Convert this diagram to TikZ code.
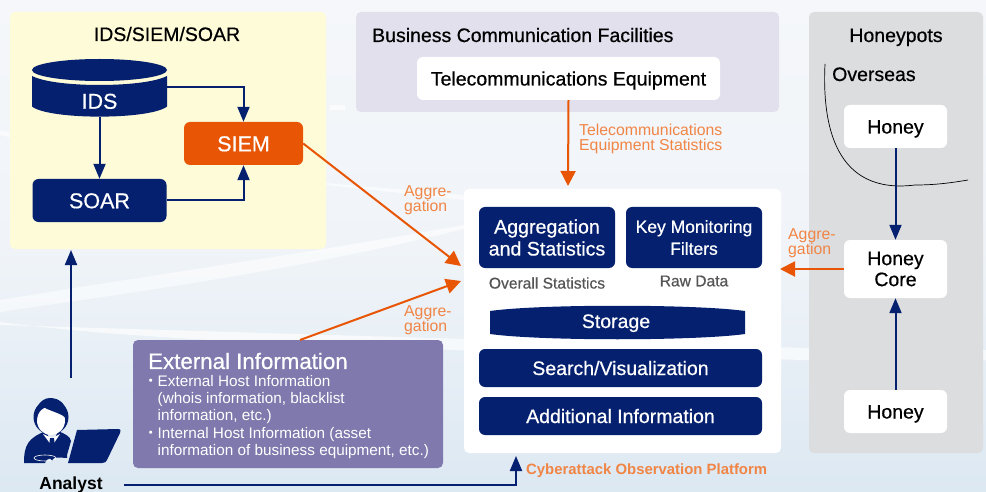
\documentclass[tikz,border=0pt]{standalone}
\usepackage{fontspec}
\setmainfont{Liberation Sans}
\newfontfamily\medf[FakeBold=0.6]{Liberation Sans}
\newfontfamily\cjkdot{Noto Sans CJK JP}
\usetikzlibrary{arrows.meta,calc,positioning}
\definecolor{navy}{HTML}{04206F}
\definecolor{orng}{HTML}{E85504}
\definecolor{lorng}{HTML}{F08545}
\definecolor{ylw}{HTML}{FEFBD8}
\definecolor{lav}{HTML}{E3E0EE}
\definecolor{gry}{HTML}{DCDDDE}
\definecolor{purp}{HTML}{8079AD}
\definecolor{bgtop}{HTML}{F5F7FA}
\definecolor{bgbot}{HTML}{DCE8F2}
\definecolor{txtgry}{HTML}{555555}
\newcommand{\bul}{\makebox[9.5pt][l]{\hspace*{-5pt}\smash{\cjkdot ・}}}
\tikzset{
  panel/.style={rounded corners=5pt,inner sep=0pt},
  box/.style={rectangle,rounded corners=6pt,minimum width=#1,inner sep=0pt,align=center},
  capline/.style={text height=14pt,text depth=0pt},
  t18/.style={font=\medf\fontsize{19.5}{23}\selectfont,capline},
  t21/.style={font=\medf\fontsize{21.5}{25}\selectfont,text height=15.5pt,text depth=0pt},
  tlabel/.style={text=lorng,font=\fontsize{15.8}{15}\selectfont,align=left,anchor=west,inner sep=0pt},
  navyarrow/.style={draw=navy,line width=2pt,-{Triangle[length=15pt,width=12pt]}},
  orngarrow/.style={draw=orng,line width=2pt,-{Triangle[length=15pt,width=15pt]}},
}
\begin{document}
\begin{tikzpicture}[x=1pt,y=-1pt]
\useasboundingbox (0,0) rectangle (986,492);
% background
\shade[top color=bgtop,bottom color=bgbot,middle color=bgtop!80!bgbot] (0,0) rectangle (986,492);
\fill[white,opacity=.65] (0,322) .. controls (150,342) and (350,345) .. (500,352) .. controls (700,355) and (850,365) .. (986,360) -- (986,350) .. controls (800,350) and (500,340) .. (0,325) -- cycle;
\fill[white,opacity=.55] (0,312) .. controls (150,290) and (300,270) .. (480,225) -- (480,222) .. controls (300,255) and (150,275) .. (0,300) -- cycle;
\fill[white,opacity=.5] (0,135) -- (20,140) -- (20,135) -- (0,130) -- cycle;
\fill[white,opacity=.5] (326,185) -- (464,200) -- (464,195) -- (326,183) -- cycle;
\fill[white,opacity=.6] (330,105) -- (345,105) -- (345,110) -- (330,110) -- cycle;
% panels
\fill[ylw,panel] (10,12) rectangle (326,249);
\fill[lav,panel] (356,12) rectangle (779,112);
\fill[gry,panel] (809,12) rectangle (983,453);
\fill[white,panel] (464,189) rectangle (781,453);
% yellow panel
\node[t18,text=black,inner sep=0pt] (titleA) at (167,34) {IDS/SIEM/SOAR};
\node[inner sep=0pt,minimum width=135pt,minimum height=58pt] (ids) at (99.5,88) {};
\fill[navy] (32,76) .. controls (55,88) and (144,88) .. (167,76) -- (167,106.5) .. controls (150,120) and (49,120) .. (32,106.5) -- cycle;
\fill[navy] (99.5,70) ellipse [x radius=67.5pt,y radius=11pt];
\node[t21,text=white,inner sep=0pt] (idstext) at (99.5,101) {IDS};
\node[box=119pt,minimum height=43pt,fill=orng,text=white,t21] (siem) at (243.5,143.5) {SIEM};
\node[box=134pt,minimum height=43pt,fill=navy,text=white,t21] (soar) at (99.5,200.5) {SOAR};
\draw[navyarrow] (167,87) -| (siem.north);
\draw[navyarrow] (ids.south) -- (soar.north);
\draw[navyarrow] (soar.east) -| (siem.south);
% business
\node[t18,anchor=west,inner sep=0pt] (titleB) at (372,35) {Business Communication Facilities};
\node[box=303pt,minimum height=43pt,fill=white,t18] (tele) at (568.5,78.5) {Telecommunications Equipment};
% platform
\node[box=136pt,minimum height=61pt,fill=navy,text=white,font=\medf\fontsize{19.6}{22}\selectfont] (agg) at (547,237.5) {Aggregation\\and Statistics};
\node[box=136pt,minimum height=61pt,fill=navy,text=white,font=\medf\fontsize{17.5}{22}\selectfont] (key) at (694,237.5) {Key Monitoring\\Filters};
\node[text=txtgry,font=\medf\fontsize{15.6}{16}\selectfont] (ov) at (547,283) {Overall Statistics};
\node[text=txtgry,font=\medf\fontsize{15.6}{16}\selectfont] (raw) at (694,281) {Raw Data};
\fill[navy] (490,311) .. controls (540,304) and (695,304) .. (745,311) -- (745,334) .. controls (695,341) and (540,341) .. (490,334) -- cycle;
\node[t18,text=white,inner sep=0pt] (stor) at (616,321) {Storage};
\node[box=283pt,minimum height=38pt,fill=navy,text=white,t18] (sv) at (620.5,368) {Search/Visualization};
\node[box=283pt,minimum height=38pt,fill=navy,text=white,t18] (add) at (620.5,416) {Additional Information};
\coordinate (pin1) at (461,266);
\coordinate (pin2) at (461,281);
\coordinate (pin3) at (568,186);
\coordinate (pin4) at (780,269);
\coordinate (pin5) at (516,456);
% honeypots
\node[t18,inner sep=0pt] (titleH) at (896,35) {Honeypots};
\node[t18,anchor=west,inner sep=0pt] (ovs) at (832,74) {Overseas};
\draw[black,line width=.7pt] (825,64) .. controls (822,125) and (835,195) .. (915,185) .. controls (935,185) and (950,183) .. (968,180);
\node[box=103pt,minimum height=43pt,fill=white,t18] (h1) at (895.5,126.5) {Honey};
\node[box=103pt,minimum height=58pt,fill=white,font=\medf\fontsize{19.5}{21}\selectfont] (core) at (895.5,269) {Honey\\Core};
\node[box=103pt,minimum height=43pt,fill=white,t18] (h2) at (895.5,411.5) {Honey};
\draw[navyarrow] (h1.south) -- (core.north);
\draw[navyarrow] (h2.north) -- (core.south);
\draw[orngarrow] (core.west) -- (pin4);
\node[tlabel] (l1) at (788,243) {Aggre-\\[-.5pt]gation};
% external
\node[panel,fill=purp,minimum width=310pt,minimum height=128pt] (ext) at (288,404) {};
\node[text=white,font=\medf\fontsize{22.3}{24}\selectfont,anchor=west,inner sep=0pt] (extt) at (148,361) {External Information};
\node[text=white,font=\fontsize{15.3}{17.3}\selectfont,anchor=north west,align=left,inner sep=0pt] (extb) at (148,375) {%
\bul External Host Information\\
\hspace*{9.5pt}(whois information, blacklist\\
\hspace*{9.5pt}information, etc.)\\
\bul Internal Host Information (asset\\
\hspace*{9.5pt}information of business equipment, etc.)};
% orange arrows
\draw[orngarrow] (siem.east) -- (pin1);
\coordinate (e1) at (300,340);
\draw[orngarrow] (e1) -- (pin2);
\draw[orngarrow] (tele.south) -- (pin3);
\node[tlabel] (l2) at (404,200.5) {Aggre-\\gation};
\node[tlabel] (l3) at (404,320.5) {Aggre-\\gation};
\node[tlabel] (l4) at (579,138.5) {Telecommunications\\Equipment Statistics};
\node[tlabel,font=\bfseries\fontsize{14.9}{16}\selectfont] (l5) at (526,471) {Cyberattack Observation Platform};
% analyst
\node[inner sep=0pt,minimum width=10pt,minimum height=85pt] (icon) at (71,430) {};
\fill[navy] (24,463) .. controls (24,445) and (28,438) .. (46,431) -- (52,445) -- (58,431) .. controls (65,434) and (70,436) .. (71,441) -- (67,455) -- (67,458) .. controls (55,457) and (45,458) .. (45,463) -- cycle;
\fill[white] (43,434) -- (52,446) -- (60,434) -- (52,438) -- cycle;
\fill[navy] (50,438) -- (54,438) -- (56,455) -- (52,461) -- (48,455) -- cycle;
\fill[navy] (51,417) circle [radius=17.5pt];
\fill[white] (51,420.5) ellipse [x radius=14pt,y radius=14.5pt];
\fill[navy] (37,420) .. controls (37,410) and (42,405) .. (47,409) .. controls (54,412) and (62,414) .. (66,418) .. controls (68,405) and (60,398) .. (50,398) .. controls (40,398) and (33,410) .. (37,420) -- cycle;
\draw[white,line width=.6pt] (45,458) ellipse [x radius=11pt,y radius=3pt];
\fill[navy] (77,430) -- (118,429) .. controls (121,429) and (121,431) .. (120,433) -- (107,460) .. controls (106,462) and (105,463) .. (102,463) -- (68,463) -- cycle;
\node[font=\bfseries\fontsize{17.5}{18}\selectfont] (analyst) at (71,484.5) {Analyst};
\coordinate (a1) at (71,378);
\coordinate (a2) at (71,250);
\coordinate (a3) at (124,485);
\draw[navyarrow] (a1) -- (a2);
\draw[navyarrow] (a3) -| (pin5);
\end{tikzpicture}
\end{document}
